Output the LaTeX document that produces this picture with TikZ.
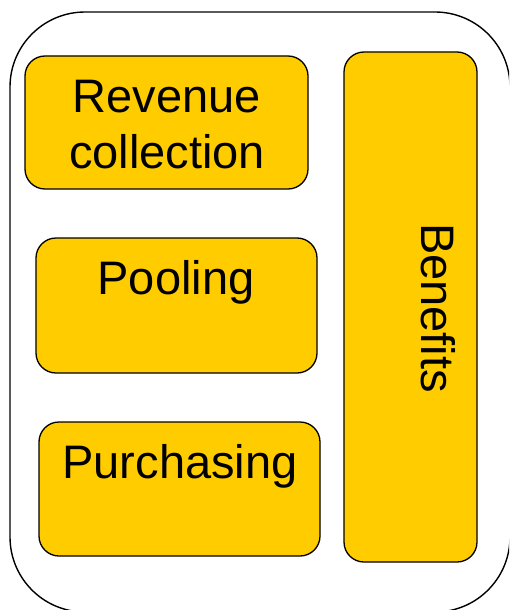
\documentclass[tikz,border=0pt]{standalone}
\usepackage{fontspec}
\setmainfont{Liberation Sans}
\definecolor{gold}{HTML}{FFCC00}
\begin{document}
\begin{tikzpicture}[x=1pt,y=-1pt,
  boxstyle/.style={draw=black,line width=1.3pt,fill=gold,rounded corners=20pt,inner sep=0pt},
  lbl/.style={font=\fontsize{47}{56}\selectfont,inner sep=0pt,align=center,text=black}]
\useasboundingbox (0,0) rectangle (509,610);
\begin{scope}
\clip (0,0) rectangle (509,610);
\draw[line width=1.4pt,rounded corners=75pt] (10,12) rectangle (510,612);
\end{scope}
\draw[boxstyle] (25,56) rectangle (308,189);
\draw[boxstyle] (36,238) rectangle (317,373);
\draw[boxstyle] (39,422) rectangle (320,556);
\draw[boxstyle] (344,52) rectangle (477,562);
\node[lbl,anchor=base] (rev) at (167,112) {Revenue};
\node[lbl,anchor=base] (col) at (167,168) {collection};
\node[lbl,anchor=base] (pool) at (176,294) {Pooling};
\node[lbl,anchor=base] (pur) at (180,478) {Purchasing};
\node[lbl,anchor=base,rotate=-90] (ben) at (421,308) {Benefits};
\end{tikzpicture}
\end{document}
